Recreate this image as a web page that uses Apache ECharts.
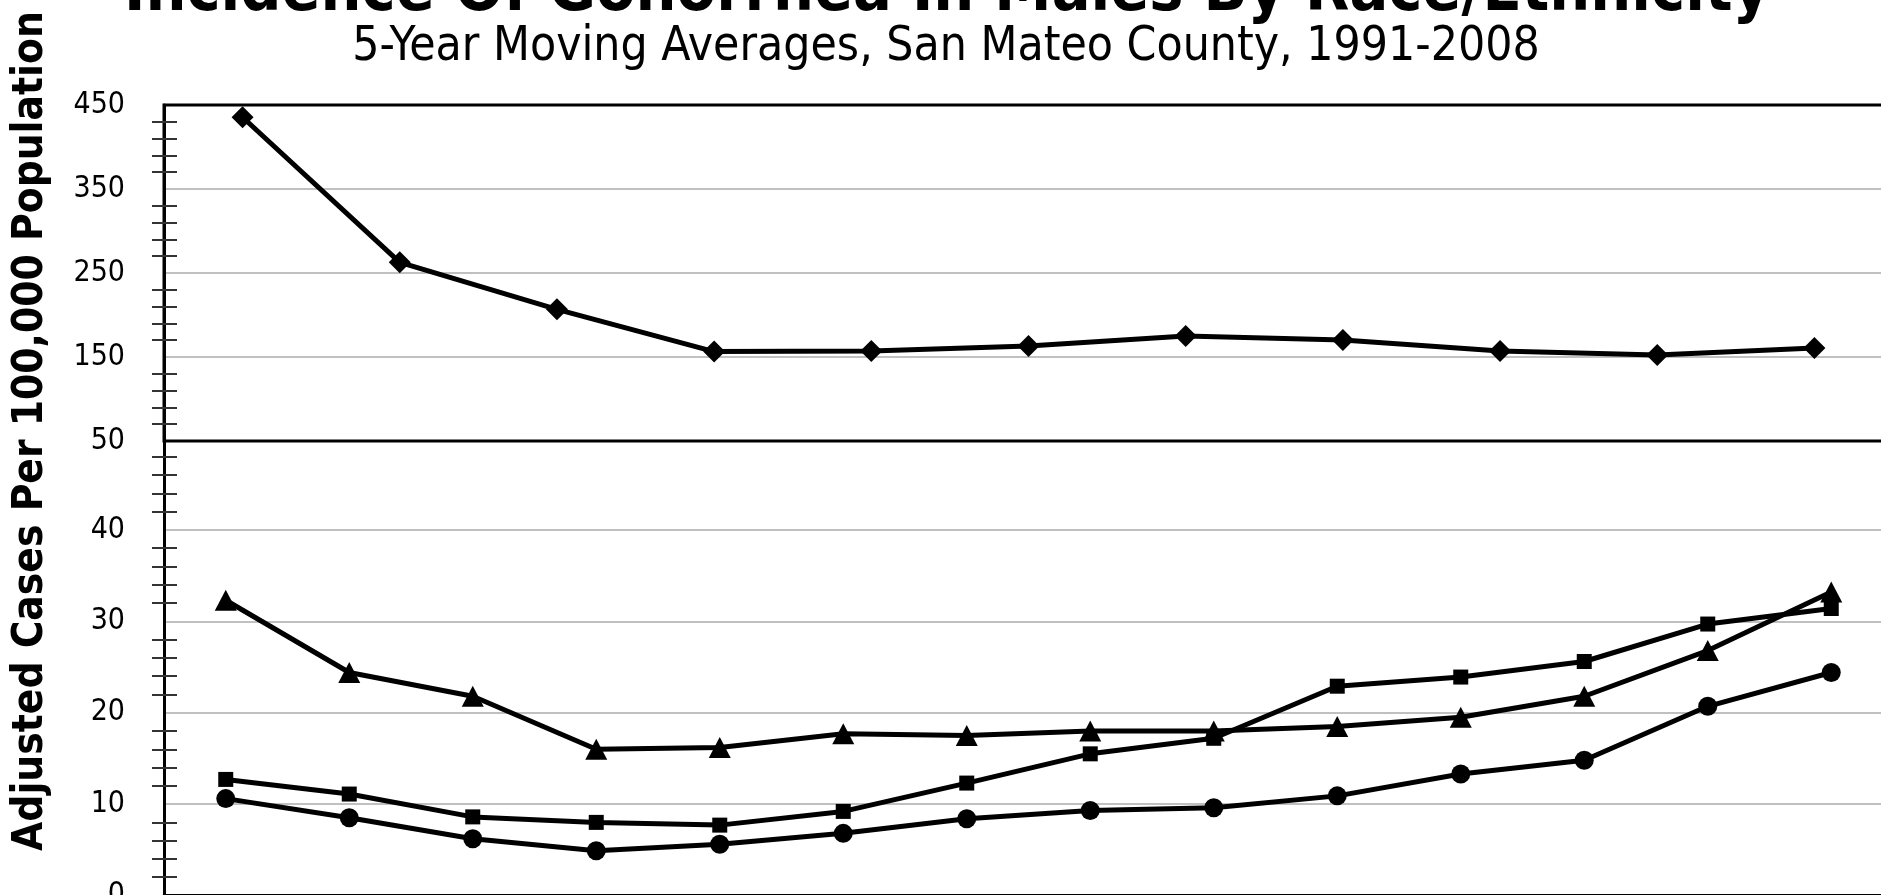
<!DOCTYPE html>
<html>
<head>
<meta charset="utf-8">
<title>Incidence Of Gonorrhea In Males By Race/Ethnicity</title>
<script src="https://cdn.jsdelivr.net/npm/echarts@6/dist/echarts.min.js"></script>
<style>
html, body { margin: 0; padding: 0; background: #fff; }
#chart { width: 1881px; height: 895px; }
</style>
</head>
<body>
<div id="chart"></div>
<script>
// 5-year windows (x labels are cut off in the original picture)
var periods = ['1991-1995', '1992-1996', '1993-1997', '1994-1998', '1995-1999', '1996-2000', '1997-2001',
    '1998-2002', '1999-2003', '2000-2004', '2001-2005', '2002-2006', '2003-2007', '2004-2008'];
// upper panel only has 11 points
var upperPeriods = periods.slice(0, 11);

// upper panel (diamonds)
var diamondValues = [435.4, 262.7, 206.7, 156.4, 157.1, 163.1, 175.0, 170.2, 157.1, 152.4, 160.7];
// lower panel
var triangleValues = [32.3, 24.4, 21.8, 16.0, 16.2, 17.7, 17.5, 18.0, 18.0, 18.5, 19.5, 21.8, 26.8, 33.2];
var squareValues = [12.7, 11.1, 8.6, 8.0, 7.7, 9.2, 12.3, 15.5, 17.2, 22.9, 23.9, 25.6, 29.7, 31.4];
var circleValues = [10.6, 8.5, 6.2, 4.9, 5.6, 6.8, 8.4, 9.3, 9.6, 10.9, 13.3, 14.8, 20.7, 24.4];

var titleText = 'Incidence Of Gonorrhea In Males By Race/Ethnicity';
var subtitleText = '5-Year Moving Averages, San Mateo County, 1991-2008';
var yTitleText = 'Adjusted Cases Per 100,000 Population';

var FONT = '"DejaVu Sans Condensed", "DejaVu Sans", sans-serif';
var tickStyle = { color: '#333', width: 2 };

var chart = echarts.init(document.getElementById('chart'), null, { renderer: 'canvas' });

function lineSeries(name, data, symbol, size, xi, yi) {
    return {
        name: name,
        type: 'line',
        xAxisIndex: xi,
        yAxisIndex: yi,
        data: data,
        symbol: symbol,
        symbolSize: size,
        showAllSymbol: true,
        lineStyle: { color: '#000', width: 5 },
        itemStyle: { color: '#000' },
        z: 5
    };
}

// second axis on each panel only draws the inner half of the crossing ticks
function innerTickAxis(grid, min, max, interval) {
    return {
        type: 'value', gridIndex: grid, position: 'left', offset: 0,
        min: min, max: max, interval: interval,
        axisLine: { show: false },
        axisLabel: { show: false },
        splitLine: { show: false },
        axisTick: { show: false, inside: true },
        minorTick: { show: true, splitNumber: 5, length: 13, lineStyle: tickStyle }
    };
}

// plot area runs past the right edge of the picture, like the original
var plotLeft = 164;
var plotWidth = 1729;

chart.setOption({
    animation: false,
    backgroundColor: '#fff',
    grid: [
        { left: plotLeft, width: plotWidth, top: 105, height: 336, outerBoundsMode: 'none', containLabel: false,
          show: true, borderColor: '#000', borderWidth: 3, backgroundColor: 'transparent' },
        { left: plotLeft, width: plotWidth, top: 438.5, height: 457, outerBoundsMode: 'none', containLabel: false }
    ],
    xAxis: [
        { type: 'category', gridIndex: 0, data: upperPeriods, boundaryGap: true,
          axisLine: { show: false }, axisTick: { show: false }, axisLabel: { show: false } },
        { type: 'category', gridIndex: 1, data: periods, boundaryGap: true,
          axisLine: { show: true, lineStyle: { color: '#000', width: 3 } },
          axisTick: { show: false }, axisLabel: { show: false } }
    ],
    yAxis: [
        { type: 'value', gridIndex: 0, position: 'left', min: 50, max: 450, interval: 100,
          axisLine: { show: true, lineStyle: { color: '#000', width: 3 } },
          axisTick: { show: false },
          minorTick: { show: true, splitNumber: 5, length: 12, lineStyle: tickStyle },
          splitLine: { show: true, showMinLine: false, showMaxLine: false, lineStyle: { color: '#c0c0c0', width: 2 } },
          axisLabel: { color: '#000', fontSize: 30, fontFamily: FONT, margin: 39 } },
        innerTickAxis(0, 50, 450, 100),
        { type: 'value', gridIndex: 1, position: 'left', min: 0, max: 50, interval: 10,
          axisLine: { show: true, lineStyle: { color: '#000', width: 3 } },
          axisTick: { show: false },
          minorTick: { show: true, splitNumber: 5, length: 12, lineStyle: tickStyle },
          splitLine: { show: true, showMinLine: false, showMaxLine: false, lineStyle: { color: '#c0c0c0', width: 2 } },
          axisLabel: { color: '#000', fontSize: 30, fontFamily: FONT, margin: 39, showMaxLabel: false } },
        innerTickAxis(1, 0, 50, 10)
    ],
    series: [
        lineSeries('Diamond', diamondValues, 'diamond', 22, 0, 0),
        lineSeries('Triangle', triangleValues, 'triangle', [22, 21], 1, 2),
        lineSeries('Square', squareValues, 'rect', 15, 1, 2),
        lineSeries('Circle', circleValues, 'circle', 19, 1, 2)
    ],
    graphic: [
        { type: 'text', x: 947, y: -7, z: 10,
          style: { text: titleText, fill: '#000', fontFamily: FONT, fontWeight: 'bold', fontSize: 64,
                   align: 'center', verticalAlign: 'middle' } },
        { type: 'text', x: 946, y: 48, z: 10,
          style: { text: subtitleText, fill: '#000', fontFamily: FONT, fontSize: 47.6,
                   align: 'center', verticalAlign: 'middle' } },
        { type: 'text', x: 31, y: 431, rotation: Math.PI / 2, z: 10,
          style: { text: yTitleText, fill: '#000', fontFamily: FONT, fontWeight: 'bold', fontSize: 42,
                   align: 'center', verticalAlign: 'middle' } }
    ]
});
</script>
</body>
</html>
